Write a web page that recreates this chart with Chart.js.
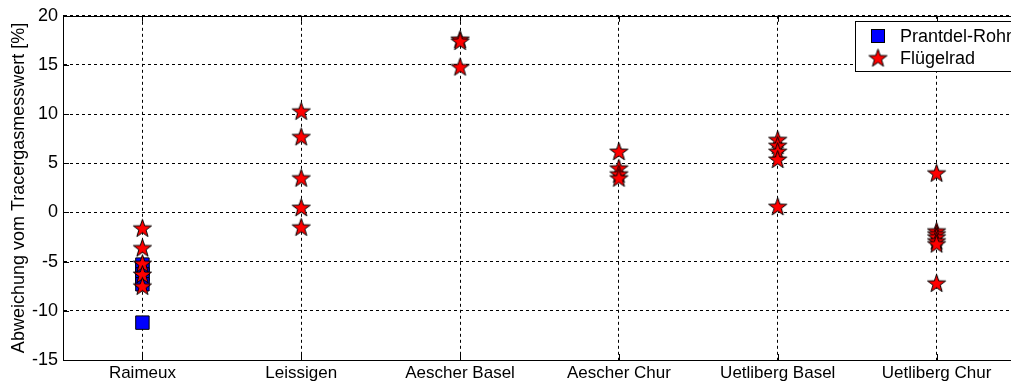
<!DOCTYPE html>
<html>
<head>
<meta charset="utf-8">
<script src="https://cdn.jsdelivr.net/npm/chart.js@4/dist/chart.umd.min.js"></script>
<style>
html,body{margin:0;padding:0;overflow:hidden;background:#fff;width:1011px;height:385px}
canvas{display:block}
</style>
</head>
<body>
<canvas id="c" width="1027" height="385"></canvas>
<script>
// ---- data ----
const categories = ['Raimeux', 'Leissigen', 'Aescher Basel', 'Aescher Chur', 'Uetliberg Basel', 'Uetliberg Chur'];
const yTicks = [-15, -10, -5, 0, 5, 10, 15, 20];
const prandtlRohrWerte = [
  [-5.3, -5.8, -6.3, -6.8, -7.3, -11.2],
  [], [], [], [], []
];
const fluegelradWerte = [
  [-1.6, -3.6, -5.2, -6.3, -7.5],
  [10.3, 7.7, 3.5, 0.5, -1.5],
  [17.6, 17.4, 14.8],
  [6.2, 4.5, 3.9, 3.5],
  [7.4, 6.8, 6.2, 5.4, 0.6],
  [4.0, -1.9, -2.2, -2.5, -2.9, -3.2, -7.2]
];
const seriesNames = ['Prantdel-Rohr', 'Flügelrad'];

// ---- helpers ----
function toPoints(groups) {
  const pts = [];
  groups.forEach((vals, i) => vals.forEach(v => pts.push({x: i + 1, y: v})));
  return pts;
}
function makeStar(size) {
  const c = document.createElement('canvas');
  c.width = size; c.height = size;
  const g = c.getContext('2d');
  const cx = size / 2, cy = size / 2 + 0.6;
  const R = size / 2 - 1, r = R * 0.4;
  g.beginPath();
  for (let k = 0; k < 10; k++) {
    const ang = -Math.PI / 2 + k * Math.PI / 5;
    const rad = k % 2 === 0 ? R : r;
    const x = cx + rad * Math.cos(ang), y = cy + rad * Math.sin(ang);
    if (k === 0) g.moveTo(x, y); else g.lineTo(x, y);
  }
  g.closePath();
  g.fillStyle = '#ff0000';
  g.fill();
  g.lineWidth = 1;
  g.strokeStyle = '#000';
  g.stroke();
  return c;
}
const starImg = makeStar(21);
const FONT = 'Liberation Sans, Arial, Helvetica, sans-serif';

const framePlugin = {
  id: 'frameLegend',
  afterDraw(chart) {
    const {ctx, chartArea: a} = chart;
    ctx.save();
    ctx.strokeStyle = '#000';
    ctx.lineWidth = 1;
    ctx.setLineDash([]);
    ctx.strokeRect(Math.round(a.left) + 0.5, Math.round(a.top) + 0.5, Math.round(a.right - a.left), Math.round(a.bottom - a.top));
    // MATLAB-style inner tick marks
    chart.scales.y.ticks.forEach(t => {
      const y = Math.round(chart.scales.y.getPixelForValue(t.value)) + 0.5;
      ctx.beginPath(); ctx.moveTo(a.left, y); ctx.lineTo(a.left + 6, y); ctx.stroke();
    });
    chart.scales.x.ticks.forEach(t => {
      const x = Math.round(chart.scales.x.getPixelForValue(t.value)) + 0.5;
      ctx.beginPath(); ctx.moveTo(x, a.bottom); ctx.lineTo(x, a.bottom - 6); ctx.stroke();
      ctx.beginPath(); ctx.moveTo(x, a.top); ctx.lineTo(x, a.top + 6); ctx.stroke();
    });
    // legend box
    const lx = 855.5, ly = 21.5, lw = 220, lh = 50;
    ctx.fillStyle = '#fff';
    ctx.fillRect(lx, ly, lw, lh);
    ctx.strokeRect(lx, ly, lw, lh);
    // square symbol
    ctx.fillStyle = '#0000ff';
    ctx.fillRect(871.5, 29.5, 13, 13);
    ctx.strokeRect(871.5, 29.5, 13, 13);
    // star symbol
    ctx.drawImage(starImg, 878 - 10.5, 58 - 10.5);
    ctx.fillStyle = '#000';
    ctx.font = '18px ' + FONT;
    ctx.textBaseline = 'middle';
    ctx.textAlign = 'left';
    ctx.fillText(seriesNames[0], 900, 37);
    ctx.fillText(seriesNames[1], 900, 59);
    ctx.restore();
  }
};

new Chart(document.getElementById('c').getContext('2d'), {
  type: 'scatter',
  data: {
    datasets: [
      {
        label: seriesNames[1],
        data: toPoints(fluegelradWerte),
        pointStyle: starImg,
        pointRadius: 10,
        order: 0
      },
      {
        label: seriesNames[0],
        data: toPoints(prandtlRohrWerte),
        pointStyle: 'rect',
        pointRadius: 9.5,
        backgroundColor: '#0000ff',
        borderColor: '#000',
        borderWidth: 1,
        order: 1
      }
    ]
  },
  options: {
    responsive: false,
    animation: false,
    devicePixelRatio: 1,
    layout: {padding: {top: 15, right: 8, left: 0, bottom: 0}},
    plugins: {legend: {display: false}, tooltip: {enabled: false}},
    scales: {
      x: {
        type: 'linear',
        min: 0.5,
        max: 6.5,
        afterBuildTicks: s => { s.ticks = categories.map((_, i) => ({value: i + 1})); },
        afterFit: s => { s.height = 25; },
        ticks: {
          callback: v => categories[Math.round(v) - 1],
          color: '#000',
          font: {family: FONT, size: 17},
          padding: 3,
          maxRotation: 0,
          autoSkip: false
        },
        grid: {color: '#000', lineWidth: 1, drawTicks: false},
        border: {display: true, color: '#000', dash: [3, 3]}
      },
      y: {
        type: 'linear',
        min: -15,
        max: 20,
        afterBuildTicks: s => { s.ticks = yTicks.map(v => ({value: v})); },
        afterFit: s => { s.width = 63; },
        ticks: {
          color: '#000',
          font: {family: FONT, size: 18},
          padding: 5
        },
        grid: {color: '#000', lineWidth: 1, drawTicks: false},
        border: {display: true, color: '#000', dash: [3, 3]},
        title: {
          display: true,
          text: 'Abweichung vom Tracergasmesswert [%]',
          color: '#000',
          font: {family: FONT, size: 18},
          padding: {top: 8, bottom: 0}
        }
      }
    }
  },
  plugins: [framePlugin]
});
</script>
</body>
</html>
